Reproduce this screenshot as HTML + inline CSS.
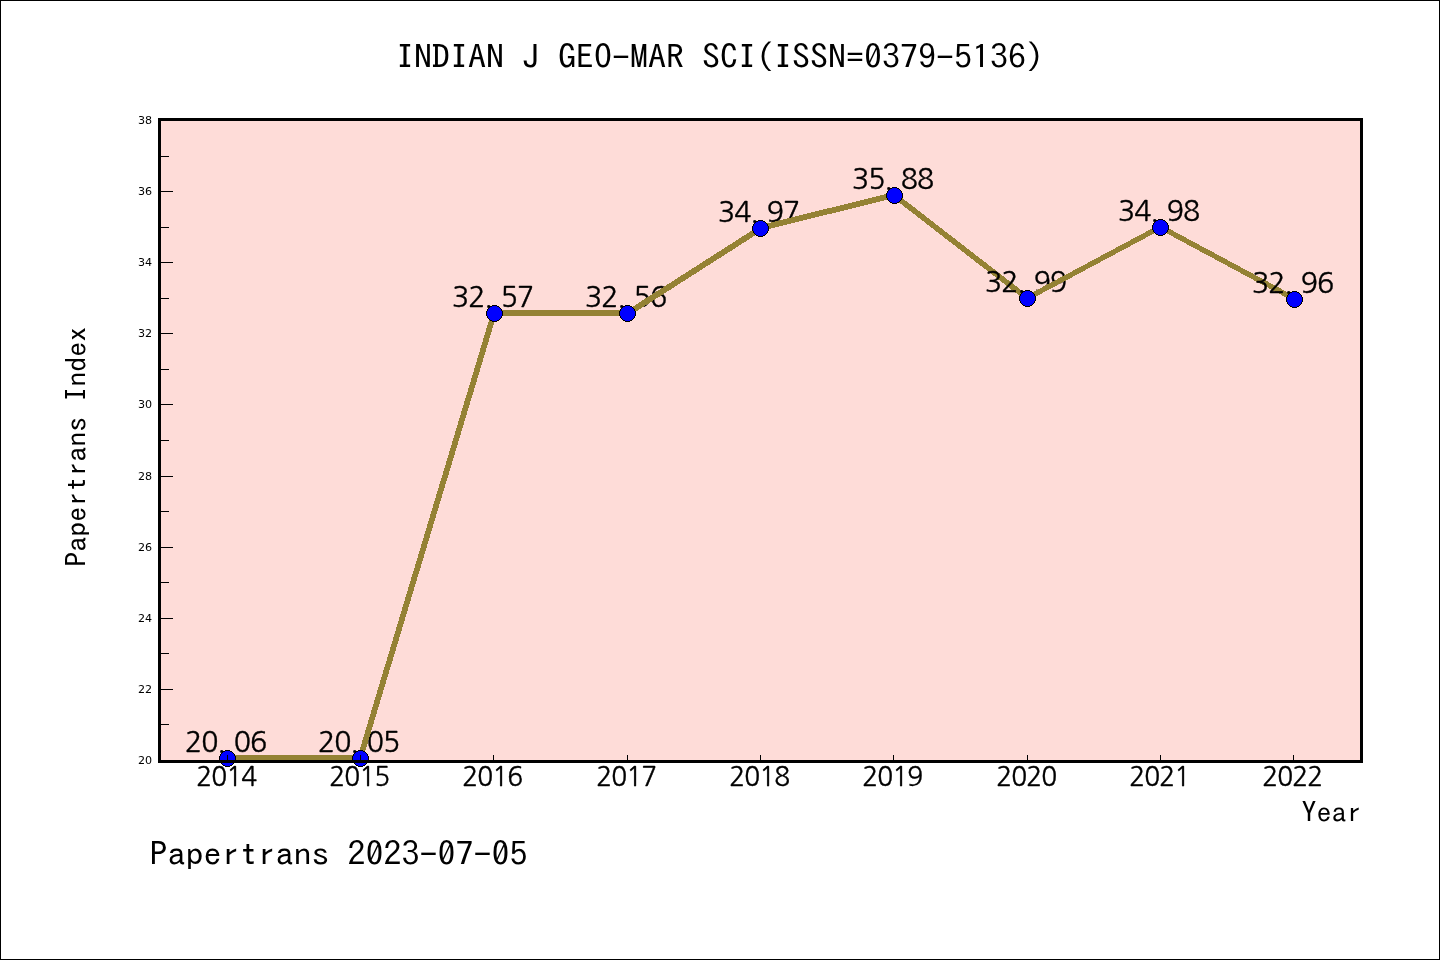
<!DOCTYPE html>
<html lang="en"><head><meta charset="utf-8"><title>INDIAN J GEO-MAR SCI(ISSN=0379-5136)</title>
<style>html,body{margin:0;padding:0;background:#fff}body{width:1440px;height:960px;overflow:hidden}svg{display:block}.m{font-family:IPAGothic, "WenQuanYi Zen Hei Mono", "Liberation Mono", monospace;fill:#000}.s{font-family:"DejaVu Sans", "Liberation Sans", sans-serif;font-size:11.1px;fill:#000}.d{font-family:NanumGothic, "Noto Sans CJK KR", "Liberation Sans", sans-serif;fill:#000;stroke:#000;stroke-width:.4px}</style></head><body>
<svg width="1440" height="960" viewBox="0 0 1440 960">
<rect x="0" y="0" width="1440" height="960" fill="#fff"/>
<g shape-rendering="crispEdges">
<rect x="160" y="120" width="1201" height="641" fill="#fedcd8"/>
<text class="d" x="193.70 209.95 221.49 242.45 258.70" y="752" font-size="28.4" text-anchor="middle">20.06</text>
<polygon points="227.5,755 360.5,755 360.5,761 227.5,761" fill="#948234"/>
<text class="d" x="326.70 342.95 354.49 375.45 391.70" y="752" font-size="28.4" text-anchor="middle">20.05</text>
<polygon points="357,758.5 491,313.5 497,313.5 363,758.5" fill="#948234"/>
<text class="d" x="460.70 476.95 488.49 509.45 525.70" y="307" font-size="28.4" text-anchor="middle">32.57</text>
<polygon points="494.5,310 627.5,310 627.5,316 494.5,316" fill="#948234"/>
<text class="d" x="593.70 609.95 621.49 642.45 658.70" y="307" font-size="28.4" text-anchor="middle">32.56</text>
<polygon points="627.5,310 760.5,225 760.5,232 627.5,317" fill="#948234"/>
<text class="d" x="726.70 742.95 754.49 775.45 791.70" y="222" font-size="28.4" text-anchor="middle">34.97</text>
<polygon points="760.5,225 894.5,192 894.5,198 760.5,231" fill="#948234"/>
<text class="d" x="860.70 876.95 888.49 909.45 925.70" y="189" font-size="28.4" text-anchor="middle">35.88</text>
<polygon points="894.5,192 1027.5,295 1027.5,302 894.5,199" fill="#948234"/>
<text class="d" x="993.70 1009.95 1021.49 1042.45 1058.70" y="292" font-size="28.4" text-anchor="middle">32.99</text>
<polygon points="1027.5,295 1160.5,224 1160.5,230 1027.5,301" fill="#948234"/>
<text class="d" x="1126.70 1142.95 1154.49 1175.45 1191.70" y="221" font-size="28.4" text-anchor="middle">34.98</text>
<polygon points="1160.5,224 1294.5,296 1294.5,302 1160.5,230" fill="#948234"/>
<text class="d" x="1260.70 1276.95 1288.49 1309.45 1325.70" y="293" font-size="28.4" text-anchor="middle">32.96</text>
<defs><g id="mk"><rect x="-2" y="-8" width="5" height="1" fill="#000"/><rect x="-4" y="-7" width="9" height="1" fill="#000"/><rect x="-5" y="-6" width="11" height="1" fill="#000"/><rect x="-6" y="-5" width="13" height="1" fill="#000"/><rect x="-7" y="-4" width="15" height="2" fill="#000"/><rect x="-8" y="-2" width="17" height="5" fill="#000"/><rect x="-7" y="3" width="15" height="2" fill="#000"/><rect x="-6" y="5" width="13" height="1" fill="#000"/><rect x="-5" y="6" width="11" height="1" fill="#000"/><rect x="-4" y="7" width="9" height="1" fill="#000"/><rect x="-2" y="8" width="5" height="1" fill="#000"/><rect x="-2" y="-7" width="5" height="1" fill="#0000ff"/><rect x="-4" y="-6" width="9" height="1" fill="#0000ff"/><rect x="-5" y="-5" width="11" height="1" fill="#0000ff"/><rect x="-6" y="-4" width="13" height="2" fill="#0000ff"/><rect x="-7" y="-2" width="15" height="5" fill="#0000ff"/><rect x="-6" y="3" width="13" height="2" fill="#0000ff"/><rect x="-5" y="5" width="11" height="1" fill="#0000ff"/><rect x="-4" y="6" width="9" height="1" fill="#0000ff"/><rect x="-2" y="7" width="5" height="1" fill="#0000ff"/></g></defs>
<use href="#mk" x="227" y="758"/>
<use href="#mk" x="360" y="758"/>
<use href="#mk" x="494" y="313"/>
<use href="#mk" x="627" y="313"/>
<use href="#mk" x="760" y="228"/>
<use href="#mk" x="894" y="195"/>
<use href="#mk" x="1027" y="298"/>
<use href="#mk" x="1160" y="227"/>
<use href="#mk" x="1294" y="299"/>
<rect x="159.5" y="119.5" width="1202" height="642" fill="none" stroke="#000" stroke-width="3"/>
<rect x="161" y="724" width="8" height="1" fill="#000"/>
<rect x="161" y="689" width="12" height="1" fill="#000"/>
<rect x="161" y="653" width="8" height="1" fill="#000"/>
<rect x="161" y="618" width="12" height="1" fill="#000"/>
<rect x="161" y="582" width="8" height="1" fill="#000"/>
<rect x="161" y="547" width="12" height="1" fill="#000"/>
<rect x="161" y="511" width="8" height="1" fill="#000"/>
<rect x="161" y="476" width="12" height="1" fill="#000"/>
<rect x="161" y="440" width="8" height="1" fill="#000"/>
<rect x="161" y="404" width="12" height="1" fill="#000"/>
<rect x="161" y="369" width="8" height="1" fill="#000"/>
<rect x="161" y="333" width="12" height="1" fill="#000"/>
<rect x="161" y="298" width="8" height="1" fill="#000"/>
<rect x="161" y="262" width="12" height="1" fill="#000"/>
<rect x="161" y="227" width="8" height="1" fill="#000"/>
<rect x="161" y="191" width="12" height="1" fill="#000"/>
<rect x="161" y="156" width="8" height="1" fill="#000"/>
<rect x="227" y="755" width="1" height="5" fill="#000"/>
<rect x="360" y="755" width="1" height="5" fill="#000"/>
<rect x="493" y="755" width="1" height="5" fill="#000"/>
<rect x="627" y="755" width="1" height="5" fill="#000"/>
<rect x="760" y="755" width="1" height="5" fill="#000"/>
<rect x="893" y="755" width="1" height="5" fill="#000"/>
<rect x="1027" y="755" width="1" height="5" fill="#000"/>
<rect x="1160" y="755" width="1" height="5" fill="#000"/>
<rect x="1293" y="755" width="1" height="5" fill="#000"/>
</g>
<text class="s" x="152.2" y="764" text-anchor="end">20</text>
<text class="s" x="152.2" y="693" text-anchor="end">22</text>
<text class="s" x="152.2" y="622" text-anchor="end">24</text>
<text class="s" x="152.2" y="551" text-anchor="end">26</text>
<text class="s" x="152.2" y="480" text-anchor="end">28</text>
<text class="s" x="152.2" y="408" text-anchor="end">30</text>
<text class="s" x="152.2" y="337" text-anchor="end">32</text>
<text class="s" x="152.2" y="266" text-anchor="end">34</text>
<text class="s" x="152.2" y="195" text-anchor="end">36</text>
<text class="s" x="152.2" y="124" text-anchor="end">38</text>
<text class="d" x="204.25 219.25 234.25 249.25" y="786" font-size="26.3" text-anchor="middle">2014</text>
<text class="d" x="337.25 352.25 367.25 382.25" y="786" font-size="26.3" text-anchor="middle">2015</text>
<text class="d" x="470.25 485.25 500.25 515.25" y="786" font-size="26.3" text-anchor="middle">2016</text>
<text class="d" x="604.25 619.25 634.25 649.25" y="786" font-size="26.3" text-anchor="middle">2017</text>
<text class="d" x="737.25 752.25 767.25 782.25" y="786" font-size="26.3" text-anchor="middle">2018</text>
<text class="d" x="870.25 885.25 900.25 915.25" y="786" font-size="26.3" text-anchor="middle">2019</text>
<text class="d" x="1004.25 1019.25 1034.25 1049.25" y="786" font-size="26.3" text-anchor="middle">2020</text>
<text class="d" x="1137.25 1152.25 1167.25 1182.25" y="786" font-size="26.3" text-anchor="middle">2021</text>
<text class="d" x="1270.25 1285.25 1300.25 1315.25" y="786" font-size="26.3" text-anchor="middle">2022</text>
<text class="m" transform="translate(1361.50,821.50) scale(1.0989,1)" font-size="27.3" text-anchor="end">Year</text>
<text class="m" transform="translate(86.20,446.70) rotate(-90) scale(1.0989,1)" font-size="27.3" text-anchor="middle">Papertrans Index</text>
<text class="m" transform="translate(720.00,68.66) scale(1.0989,1)" font-size="32.76" text-anchor="middle">INDIAN J GEO-MAR SCI(ISSN=0379-5136)</text>
<text class="m" transform="translate(149.50,865.66) scale(1.0989,1)" font-size="32.76" text-anchor="start">Papertrans 2023-07-05</text>
<rect x="0.5" y="0.5" width="1439" height="959" fill="none" stroke="#000" stroke-width="1" shape-rendering="crispEdges"/>
</svg></body></html>
